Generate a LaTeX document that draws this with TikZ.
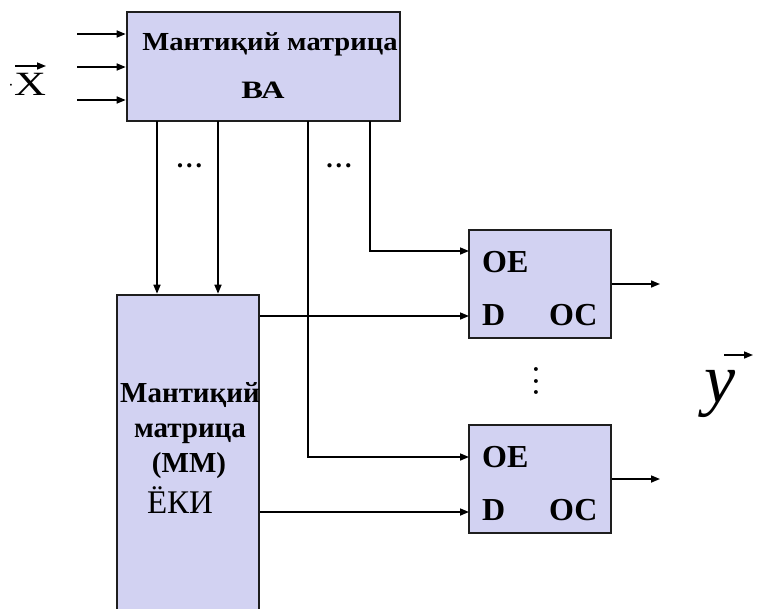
\documentclass[tikz,border=0pt]{standalone}
\usepackage{fontspec}
\setmainfont{Liberation Serif}
\usetikzlibrary{arrows.meta}
\definecolor{boxfill}{RGB}{210,210,242}
\definecolor{boxline}{RGB}{30,30,30}
\tikzset{
  blk/.style={draw=boxline, line width=2.6pt, fill=boxfill, inner sep=0pt},
  arr/.style={line width=1.6pt, -{Triangle[length=9pt,width=7pt]}},
  lbl/.style={inner sep=0pt, anchor=base, font=\fontsize{29}{29}\selectfont\bfseries},
  pin/.style={inner sep=0pt, anchor=base west, font=\fontsize{32}{32}\selectfont\bfseries},
  dotrow/.style={inner sep=0pt, anchor=base, font=\fontsize{26}{26}\selectfont\bfseries},
}
\begin{document}
\begin{tikzpicture}[x=1pt,y=-1pt]
\useasboundingbox (0,0) rectangle (757,608);
\clip (0,0) rectangle (757,608);
% blocks
\node[blk, minimum width=273pt, minimum height=109pt] (va) at (263.5,66.5) {};
\node[blk, minimum width=142pt, minimum height=340pt] (mm) at (188,465) {};
\node[blk, minimum width=142pt, minimum height=108pt] (r1) at (540,284) {};
\node[blk, minimum width=142pt, minimum height=108pt] (r2) at (540,479) {};
% texts in blocks
\node[lbl, font=\fontsize{26}{26}\selectfont\bfseries] (vat1) at (270,50) {\scalebox{1.1}[1]{Мантиқий матрица}};
\node[lbl, font=\fontsize{25}{25}\selectfont\bfseries] (vat2) at (263,98) {\scalebox{1.3}[1]{ВА}};
\node[lbl] (mmt1) at (190,402) {Мантиқий};
\node[lbl] (mmt2) at (190,437) {матрица};
\node[lbl] (mmt3) at (189,472) {(ММ)};
\node[lbl, font=\fontsize{33}{33}\selectfont] (mmt4) at (180,513) {ЁКИ};
\node[pin] (oe1) at (482,272) {ОЕ};
\node[pin] (d1) at (482,325) {D};
\node[pin] (oc1) at (549,325) {ОС};
\node[pin] (oe2) at (482,467) {ОЕ};
\node[pin] (d2) at (482,520) {D};
\node[pin] (oc2) at (549,520) {ОС};
% outside labels
\node[inner sep=0pt, anchor=base, font=\fontsize{34}{34}\selectfont] (xv) at (30,95) {\scalebox{1.3}[1]{X}};
\node[inner sep=0pt, font=\fontsize{16}{16}\selectfont] (xdot) at (11,87) {·};
\node[inner sep=0pt, anchor=base, font=\fontsize{70}{70}\selectfont\itshape] (yv) at (720,402) {y};
\node[dotrow] (dots1) at (189.5,167) {.\hspace{3pt}.\hspace{3pt}.};
\node[dotrow] (dots2) at (339,167) {.\hspace{3pt}.\hspace{3pt}.};
\node[inner sep=0pt, font=\fontsize{24}{24}\selectfont\bfseries] (vd) at (536,381) {\rotatebox{90}{.\hspace{5.5pt}.\hspace{5.5pt}.}};
% vector arrows of the labels
\coordinate (xa0) at (15,66);
\coordinate (xa1) at (46,66);
\coordinate (ya0) at (724,355);
\coordinate (ya1) at (753,355);
\draw[line width=1.6pt, -{Triangle[length=9pt,width=7pt]}] (xa0) -- (xa1);
\draw[line width=1.6pt, -{Triangle[length=9pt,width=7pt]}] (ya0) -- (ya1);
% coordinates
\coordinate (in1) at (77,34);
\coordinate (in2) at (77,67);
\coordinate (in3) at (77,100);
\coordinate (c1) at (157,121);
\coordinate (c2) at (218,121);
\coordinate (c3) at (308,121);
\coordinate (c4) at (370,121);
\coordinate (oeA) at (469,251);
\coordinate (dA) at (469,316);
\coordinate (oeB) at (469,457);
\coordinate (dB) at (469,512);
\coordinate (o1) at (660,284);
\coordinate (o2) at (660,479);
% connectors
\draw[arr] (in1) -- (in1 -| va.west);
\draw[arr] (in2) -- (in2 -| va.west);
\draw[arr] (in3) -- (in3 -| va.west);
\draw[arr] (c1) -- (c1 |- mm.north);
\draw[arr] (c2) -- (c2 |- mm.north);
\draw[arr] (c4) |- (oeA);
\draw[arr] (c3) |- (oeB);
\draw[arr] (dA -| mm.east) -- (dA);
\draw[arr] (dB -| mm.east) -- (dB);
\draw[arr] (r1.east) -- (o1);
\draw[arr] (r2.east) -- (o2);
\end{tikzpicture}
\end{document}
